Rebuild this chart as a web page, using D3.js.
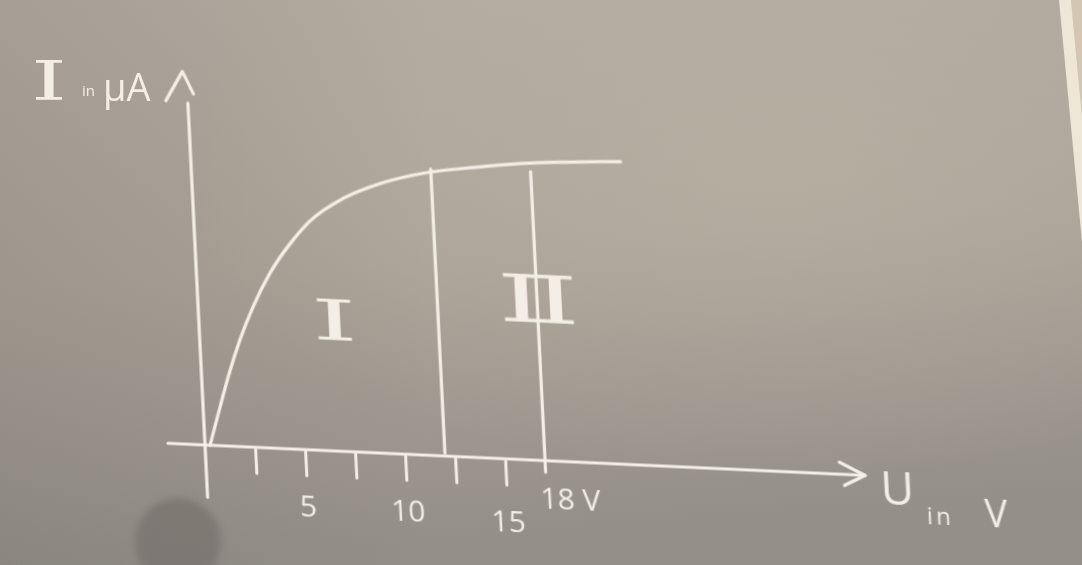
<!DOCTYPE html>
<html>
<head>
<meta charset="utf-8">
<script src="https://cdn.jsdelivr.net/npm/d3@7"></script>
<style>
  html, body { margin: 0; padding: 0; overflow: hidden; background: #aaa297; }
  svg { display: block; }
</style>
</head>
<body>
<svg id="board" width="1082" height="565"></svg>
<script>
/* Tafelskizze: Kennlinie I(U) mit Bereich I und II */

// Kennlinie
const curveU = [0.25, 0.85, 1.33, 2.0, 2.75, 3.7, 4.9, 5.8, 7.55, 9.25, 10.95, 12, 13.5, 16.5, 24.8];
const curveI = [0, 4.1, 7.3, 11.2, 14.8, 18.5, 22.0, 24.1, 26.7, 28.3, 29.4, 29.9, 30.4, 31.1, 31.9];

// Achse
const tickU = [2.5, 5, 7.5, 10, 12.5, 15];
const tickLabelU = [5, 10, 15, 18];
const tickLabels = ["5", "10", "15", "18 V"];

// Grenzlinien der Bereiche
const boundaryU = [12, 18];
const boundaryBottom = [0.3, -1.2];
const boundaryTop = [30.2, 30.4];

// Bereichsbezeichnungen
const regionNames = ["Ⅰ", "Ⅱ"];
const regionU = [6.8, 18.1];
const regionI = [11.7, 14.6];

const W = 1082, H = 565;
const CHALK = "#f4efe6";
const FONT = "'Open Sans', 'DejaVu Sans', sans-serif";

const svg = d3.select("#board");
const defs = svg.append("defs");

// ---- Tafel-Hintergrund
const bg = defs.append("linearGradient").attr("id", "bg")
  .attr("x1", 0).attr("y1", 0).attr("x2", 0.15).attr("y2", 1);
[["0%", "#b4aca1"], ["50%", "#aba398"], ["100%", "#948f89"]]
  .forEach((s) => bg.append("stop").attr("offset", s[0]).attr("stop-color", s[1]));
const side = defs.append("linearGradient").attr("id", "side").attr("x1", 0).attr("x2", 1);
side.append("stop").attr("offset", "0%").attr("stop-color", "#3a3a3a").attr("stop-opacity", 0.12);
side.append("stop").attr("offset", "40%").attr("stop-color", "#3a3a3a").attr("stop-opacity", 0);
const glow = defs.append("radialGradient").attr("id", "glow")
  .attr("cx", 0.72).attr("cy", 0.3).attr("r", 0.55);
glow.append("stop").attr("offset", "0%").attr("stop-color", "#c2b8aa").attr("stop-opacity", 0.45);
glow.append("stop").attr("offset", "100%").attr("stop-color", "#c2b8aa").attr("stop-opacity", 0);
defs.append("filter").attr("id", "smudge").attr("x", "-50%").attr("y", "-50%").attr("width", "200%").attr("height", "200%")
  .append("feGaussianBlur").attr("stdDeviation", 3.5);
defs.append("filter").attr("id", "chalk")
  .append("feGaussianBlur").attr("stdDeviation", 0.45);

svg.append("rect").attr("width", W).attr("height", H).attr("fill", "url(#bg)");
svg.append("rect").attr("width", W).attr("height", H).attr("fill", "url(#glow)");
svg.append("rect").attr("width", W).attr("height", H).attr("fill", "url(#side)");
svg.append("ellipse").attr("cx", 178).attr("cy", 542).attr("rx", 43).attr("ry", 44)
  .attr("fill", "#7b7672").attr("opacity", 0.85).attr("filter", "url(#smudge)");
// Rahmen rechts
svg.append("polygon").attr("points", "1071,0 1082,0 1082,116").attr("fill", "#d3c7b2");
svg.append("polygon").attr("points", "1059,0 1071,0 1082,116 1082,242").attr("fill", "#eee7d8");

// ---- Diagramm (leicht verzerrt wie auf dem Foto)
const x = d3.scaleLinear().domain([0, 15, 18, 42]).range([0, 300, 340, 660]);
const y = d3.scaleLinear().domain([0, 36]).range([0, -342]);

const g = svg.append("g")
  .attr("transform", "matrix(1,0.046,0.05,1,205,445)")
  .attr("filter", "url(#chalk)");

const ink = g.append("g").attr("fill", "none").attr("stroke", CHALK)
  .attr("stroke-width", 3.2).attr("stroke-linecap", "round").attr("stroke-linejoin", "round");

// x-Achse mit Pfeil
ink.append("line").attr("x1", x(-1.85)).attr("x2", x(42)).attr("y1", 0).attr("y2", 0);
ink.append("path").attr("transform", `translate(${x(42)},0)`).attr("d", "M-25,-12L0,0L-21,11");

// y-Achse mit Pfeil
ink.append("line").attr("x1", x(0)).attr("x2", x(0)).attr("y1", y(-5.5)).attr("y2", y(36));
ink.append("path").attr("transform", `translate(${x(0) - 4},${y(39.3)})`).attr("d", "M-18,30L0,0L10,22");

// Teilstriche
const ticks = g.append("g").attr("transform", "translate(0,2)")
  .call(d3.axisBottom(x).tickValues(tickU).tickSize(24).tickFormat(""));
ticks.select(".domain").remove();
ticks.attr("color", CHALK).selectAll("line").attr("stroke-width", 3).attr("stroke-linecap", "round");

// Beschriftung
const lab = g.append("g").attr("transform", "translate(0,46)")
  .call(d3.axisBottom(x).tickValues(tickLabelU).tickSize(0).tickPadding(0)
    .tickFormat((d, i) => tickLabels[i]));
lab.select(".domain").remove();
lab.attr("color", CHALK).attr("font-family", FONT).attr("font-size", 30);
lab.selectAll(".tick").filter((d) => d === 15).select("text").attr("y", 6);
lab.selectAll(".tick").filter((d) => d === 18).select("text")
  .attr("text-anchor", "start").attr("x", -7).attr("y", -19);

// Kennlinie
const line = d3.line().x((d) => x(d[0])).y((d) => y(d[1])).curve(d3.curveMonotoneX);
ink.append("path").datum(d3.zip(curveU, curveI)).attr("d", line);

// Grenzlinien
ink.selectAll("line.bound").data(d3.range(boundaryU.length)).join("line").attr("class", "bound")
  .attr("x1", (i) => x(boundaryU[i])).attr("x2", (i) => x(boundaryU[i]))
  .attr("y1", (i) => y(boundaryBottom[i])).attr("y2", (i) => y(boundaryTop[i]));

// Bereiche
g.selectAll("text.region").data(regionNames).join("text").attr("class", "region")
  .attr("x", (d, i) => x(regionU[i])).attr("y", (d, i) => y(regionI[i]))
  .attr("text-anchor", "middle").attr("fill", CHALK)
  .attr("font-family", "'DejaVu Serif', serif").attr("font-size", (d, i) => (i ? 66 : 56))
  .attr("textLength", (d, i) => (i ? 82 : 46)).attr("lengthAdjust", "spacingAndGlyphs")
  .text((d) => d);

// Achsenbeschriftungen
const yl = svg.append("g").attr("fill", CHALK).attr("filter", "url(#chalk)");
yl.append("text").attr("x", 31).attr("y", 100).attr("font-family", "'DejaVu Serif', serif")
  .attr("font-size", 54).attr("textLength", 36).attr("lengthAdjust", "spacingAndGlyphs").text("I");
yl.append("text").attr("x", 82).attr("y", 96).attr("font-family", FONT).attr("font-size", 15).text("in");
yl.append("text").attr("x", 103).attr("y", 101).attr("font-family", FONT).attr("font-size", 38).text("μA");

const xl = g.append("g").attr("fill", CHALK).attr("font-family", FONT)
  .attr("transform", `translate(${x(42)},0)`);
xl.append("text").attr("x", 15).attr("y", 28).attr("font-size", 46).text("U");
xl.append("text").attr("x", 60).attr("y", 46).attr("font-size", 24).attr("letter-spacing", 3).text("in");
xl.append("text").attr("x", 118).attr("y", 46).attr("font-size", 38).text("V");
</script>
</body>
</html>
